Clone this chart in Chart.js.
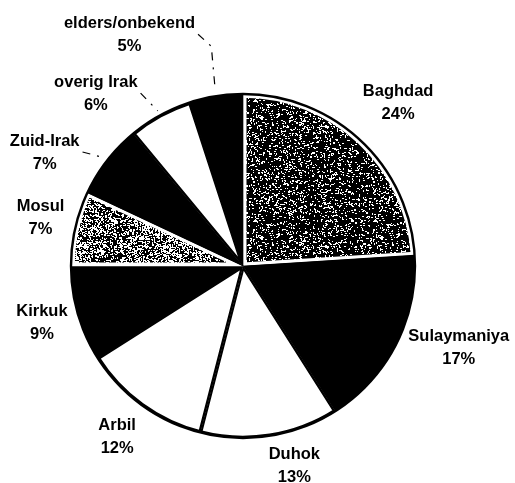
<!DOCTYPE html>
<html>
<head>
<meta charset="utf-8">
<script src="https://cdn.jsdelivr.net/npm/chart.js@4"></script>
<style>
  html, body { margin: 0; padding: 0; background: #fff; }
  #wrap { width: 515px; height: 483px; }
</style>
</head>
<body>
<div id="wrap"><canvas id="canvas" width="515" height="483"></canvas></div>
<script>
// regions (clockwise from 12 o'clock) and their share in %
const regions = ['Baghdad', 'Sulaymaniya', 'Duhok', 'Arbil', 'Kirkuk', 'Mosul', 'Zuid-Irak', 'overig Irak', 'elders/onbekend'];
const shares = [24, 17, 13, 12, 9, 7, 7, 6, 5];
const fills = ['dark', 'black', 'white', 'white', 'black', 'light', 'black', 'white', 'black'];

// label layout: [angle shift in degrees, distance as multiple of radius]
const labelPlace = [[0.3, 1.31], [-6.4, 1.34], [-5.4, 1.2], [0.5, 1.23], [0.4, 1.215], [0.8, 1.21], [-7.9, 1.33], [-11.6, 1.32], [-17.1, 1.5]];
const withLeader = ['Zuid-Irak', 'overig Irak', 'elders/onbekend'];

const FONT = 'bold 16.5px "Liberation Sans", Arial, sans-serif';

// speckled texture, black with clumps of white grains
const speckle = (whiteShare) => {
  const c = document.createElement('canvas');
  c.width = 120; c.height = 120;
  const g = c.getContext('2d');
  g.fillStyle = '#000';
  g.fillRect(0, 0, 120, 120);
  g.fillStyle = '#fff';
  for (let y = 0; y < 120; y++) {
    for (let x = 0; x < 120; x++) {
      const h = Math.abs(Math.sin(x * 12.9898 + y * 78.233) * 43758.5453) % 1;
      if (h < whiteShare) {
        const k = Math.abs(Math.sin(x * 3.17 + y * 91.7) * 1531.77) % 1;
        g.fillRect(x, y, k < 0.4 ? 2 : 1, k > 0.75 ? 2 : 1);
      }
    }
  }
  return g.createPattern(c, 'repeat');
};

const ctx = document.getElementById('canvas').getContext('2d');
const patterns = { dark: speckle(0.12), light: speckle(0.3), black: '#000', white: '#fff' };
const isSpeckled = f => f === 'dark' || f === 'light';

const pieDecor = {
  id: 'pieDecor',
  afterDatasetsDraw(chart) {
    const c = chart.ctx;
    const arcs = chart.getDatasetMeta(0).data;
    const { x, y, outerRadius } = arcs[0].getProps(['x', 'y', 'outerRadius'], true);

    // outline of the pie
    c.save();
    c.beginPath();
    c.arc(x, y, outerRadius, 0, Math.PI * 2);
    c.lineWidth = 2.4;
    c.strokeStyle = '#000';
    c.stroke();

    c.font = FONT;
    c.fillStyle = '#000';
    c.textAlign = 'center';
    c.textBaseline = 'middle';
    arcs.forEach((arc, i) => {
      const { startAngle, endAngle } = arc.getProps(['startAngle', 'endAngle'], true);
      const mid = (startAngle + endAngle) / 2;
      const a = mid + labelPlace[i][0] * Math.PI / 180;
      const d = outerRadius * labelPlace[i][1];
      const lx = x + Math.cos(a) * d;
      const ly = y + Math.sin(a) * d;
      c.fillText(regions[i], lx, ly - 11);
      c.fillText(shares[i] + '%', lx, ly + 12);

      if (withLeader.includes(regions[i])) {
        const w = c.measureText(regions[i]).width;
        const ex = lx + w / 2 + 3, ey = ly;
        const sx = x + Math.cos(mid) * (outerRadius + 5);
        const sy = y + Math.sin(mid) * (outerRadius + 5);
        c.beginPath();
        c.setLineDash([8, 7, 2, 7]);
        c.lineWidth = 1.2;
        c.moveTo(ex, ey);
        if (sy - ey > 30) {
          c.lineTo(sx - 4, ey + 12);
        }
        c.lineTo(sx, sy);
        c.stroke();
        c.setLineDash([]);
      }
    });
    c.restore();
  }
};

new Chart(ctx, {
  type: 'pie',
  data: {
    labels: regions,
    datasets: [{
      data: shares,
      backgroundColor: fills.map(f => patterns[f]),
      borderColor: fills.map(f => isSpeckled(f) ? '#fff' : '#000'),
      borderWidth: fills.map(f => isSpeckled(f) ? 3.5 : 2),
      borderAlign: 'inner',
      hoverOffset: 0
    }]
  },
  options: {
    responsive: false,
    animation: false,
    events: [],
    layout: { padding: { left: 71, right: 100, top: 94, bottom: 45 } },
    plugins: {
      legend: { display: false },
      tooltip: { enabled: false }
    }
  },
  plugins: [pieDecor]
});
</script>
</body>
</html>
